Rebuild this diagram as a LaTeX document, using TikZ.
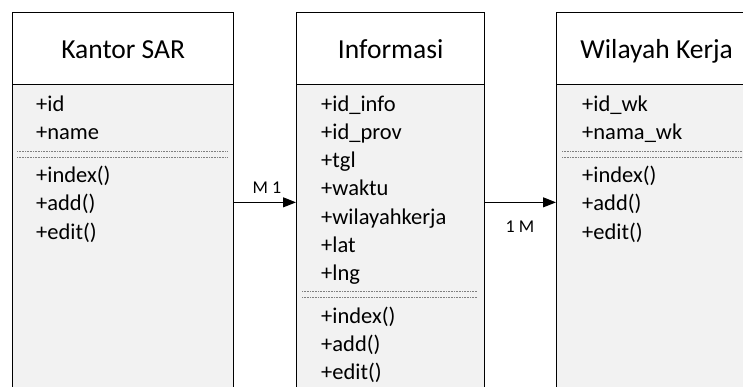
\documentclass[tikz,border=0pt]{standalone}
\usepackage{fontspec}
\setmainfont{Carlito}
\usetikzlibrary{arrows.meta}
\definecolor{bodygray}{HTML}{F2F2F2}
\definecolor{sepgray}{HTML}{7F7F7F}
\tikzset{
  classbox/.style={draw=black, line width=1.3pt, fill=bodygray, anchor=north west, inner sep=0pt, minimum height=379.4pt},
  titlebox/.style={draw=black, line width=1.3pt, fill=white, anchor=north west, inner sep=0pt, minimum height=72pt, text height=20pt, text depth=0pt, font=\fontsize{27.5}{32}\selectfont},
  attr/.style={anchor=base west, inner sep=0pt, font=\fontsize{22.5}{27}\selectfont},
  sepline/.style={draw=sepgray, line width=0.6pt, densely dotted},
  assoc/.style={draw=black, line width=1pt, -{Triangle[length=13pt,width=10pt]}},
  mult/.style={anchor=base, inner sep=0pt, font=\fontsize{18}{21}\selectfont}
}
\begin{document}
\begin{tikzpicture}[x=1pt,y=-1pt]
\useasboundingbox (0,0) rectangle (743,387);
\clip (0,0) rectangle (743,387);
% Kantor SAR
\node[classbox, minimum width=221pt] (kantor) at (12,12) {};
\node[titlebox, minimum width=221pt] (kantorT) at (12,12) {Kantor SAR};
\node[attr] (k1) at (36,112) {+id};
\node[attr] (k2) at (36,140) {+name};
\draw[sepline] (17,151) -- (227,151);
\draw[sepline] (17,157) -- (227,157);
\node[attr] (k3) at (36,183) {+index()};
\node[attr] (k4) at (36,211) {+add()};
\node[attr] (k5) at (36,239) {+edit()};
% Informasi
\node[classbox, minimum width=188pt] (info) at (296,12) {};
\node[titlebox, minimum width=188pt] (infoT) at (296,12) {Informasi};
\node[attr] (i1) at (321,112) {+id\_info};
\node[attr] (i2) at (321,140) {+id\_prov};
\node[attr] (i3) at (321,168) {+tgl};
\node[attr] (i4) at (321,196) {+waktu};
\node[attr] (i5) at (321,224) {+wilayahkerja};
\node[attr] (i6) at (321,252) {+lat};
\node[attr] (i7) at (321,280) {+lng};
\draw[sepline] (302,291) -- (477,291);
\draw[sepline] (302,297) -- (477,297);
\node[attr] (i8) at (321,323) {+index()};
\node[attr] (i9) at (321,351) {+add()};
\node[attr] (i10) at (321,379) {+edit()};
% Wilayah Kerja
\node[classbox, minimum width=200pt] (wk) at (556,12) {};
\node[titlebox, minimum width=200pt] (wkT) at (556,12) {Wilayah Kerja};
\node[attr] (w1) at (582,112) {+id\_wk};
\node[attr] (w2) at (582,140) {+nama\_wk};
\draw[sepline] (562,151) -- (750,151);
\draw[sepline] (562,157) -- (750,157);
\node[attr] (w3) at (582,183) {+index()};
\node[attr] (w4) at (582,211) {+add()};
\node[attr] (w5) at (582,239) {+edit()};
% associations
\draw[assoc] (kantor) -- (info);
\draw[assoc] (info) -- (wk);
\node[mult] (m1) at (267,194) {M 1};
\node[mult] (m2) at (520,232.5) {1 M};
\end{tikzpicture}
\end{document}
